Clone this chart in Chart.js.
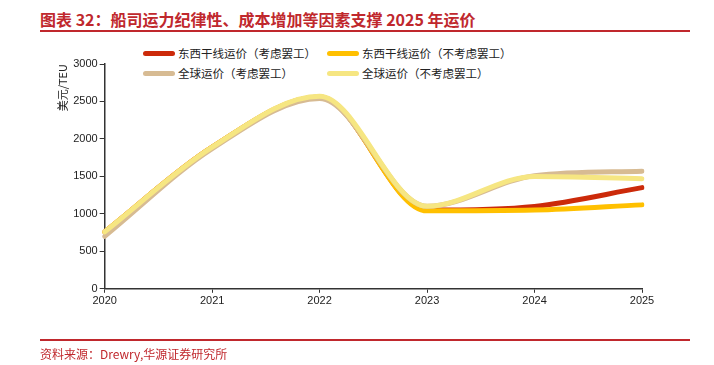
<!DOCTYPE html>
<html>
<head>
<meta charset="utf-8">
<script src="https://cdn.jsdelivr.net/npm/chart.js@4/dist/chart.umd.min.js"></script>
<style>
  html, body { margin: 0; padding: 0; background: #fff; }
  body { width: 714px; height: 365px; position: relative; overflow: hidden; font-family: "Noto Sans CJK SC", "Liberation Sans", sans-serif; }
  .title { position: absolute; left: 40px; top: 7px; font-size: 16px; font-weight: bold; color: #c0282d; white-space: nowrap; }
  .rule { position: absolute; left: 40px; width: 650px; height: 2px; background: #c0282d; }
  .source { position: absolute; left: 40px; top: 345px; font-size: 12px; color: #c0282d; white-space: nowrap; }
  .legend { position: absolute; font-size: 11.5px; color: #222; white-space: nowrap; display: flex; align-items: center; }
  .legend i { display: inline-block; width: 32px; height: 5px; border-radius: 3px; margin-right: 3px; }
  #wrap { position: absolute; left: 0; top: 0; width: 714px; height: 365px; }
</style>
</head>
<body>
<div class="title">图表 32：船司运力纪律性、成本增加等因素支撑 2025 年运价</div>
<div class="rule" style="top:30px"></div>
<div id="legend"></div>
<div id="wrap"><canvas id="chart"></canvas></div>
<div class="rule" style="top:339px; height:1.5px"></div>
<div class="source">资料来源：Drewry,华源证券研究所</div>

<script>
const years = ["2020", "2021", "2022", "2023", "2024", "2025"];
const eastWestStrike = [760, 1890, 2560, 1050, 1100, 1350];
const eastWestNoStrike = [760, 1890, 2560, 1040, 1050, 1120];
const globalStrike = [700, 1870, 2540, 1100, 1510, 1570];
const globalNoStrike = [760, 1890, 2570, 1100, 1500, 1470];
const yTicks = [0, 500, 1000, 1500, 2000, 2500, 3000];

const series = [
  { label: "东西干线运价（考虑罢工）", data: eastWestStrike, color: "#cc2a0a", order: 4 },
  { label: "东西干线运价（不考虑罢工）", data: eastWestNoStrike, color: "#ffc000", order: 3 },
  { label: "全球运价（考虑罢工）", data: globalStrike, color: "#d7bb93", order: 2 },
  { label: "全球运价（不考虑罢工）", data: globalNoStrike, color: "#f6e682", order: 1 },
];

// legend in html, two columns
const legendPos = [[143, 45], [327, 45], [143, 65], [327, 65]];
const legendBox = document.getElementById("legend");
series.forEach((s, i) => {
  const el = document.createElement("div");
  el.className = "legend";
  el.style.left = legendPos[i][0] + "px";
  el.style.top = legendPos[i][1] + "px";
  el.innerHTML = `<i style="background:${s.color}"></i>${s.label}`;
  legendBox.appendChild(el);
});

const ctx = document.getElementById("chart").getContext("2d");
new Chart(ctx, {
  type: "line",
  data: {
    labels: years,
    datasets: series.map((s) => ({
      label: s.label,
      data: s.data,
      borderColor: s.color,
      backgroundColor: s.color,
      borderWidth: 5,
      pointRadius: 0,
      cubicInterpolationMode: "monotone",
      order: s.order,
      borderCapStyle: "round",
    })),
  },
  options: {
    responsive: true,
    maintainAspectRatio: false,
    animation: false,
    layout: { padding: { left: 56, top: 64, right: 72, bottom: 55 } },
    plugins: { legend: { display: false }, tooltip: { enabled: false } },
    scales: {
      x: {
        grid: { drawOnChartArea: false, color: "#333", tickLength: 4 },
        border: { color: "#333", width: 1.5 },
        ticks: { color: "#222", font: { family: "Liberation Sans", size: 11 }, maxRotation: 0, padding: 2 },
      },
      y: {
        min: 0,
        max: 3000,
        afterBuildTicks: (axis) => { axis.ticks = yTicks.map((v) => ({ value: v })); },
        grid: { drawOnChartArea: false, color: "#333", tickLength: 5 },
        border: { color: "#333", width: 1.5 },
        ticks: { color: "#222", font: { family: "Liberation Sans", size: 11 }, padding: 2, callback: (v) => String(v) },
        title: {
          display: true,
          text: "美元/TEU",
          align: "end",
          color: "#222",
          font: { family: "Noto Sans CJK SC", size: 11 },
          padding: { top: 0, bottom: 2 },
        },
      },
    },
  },
});
</script>
</body>
</html>
